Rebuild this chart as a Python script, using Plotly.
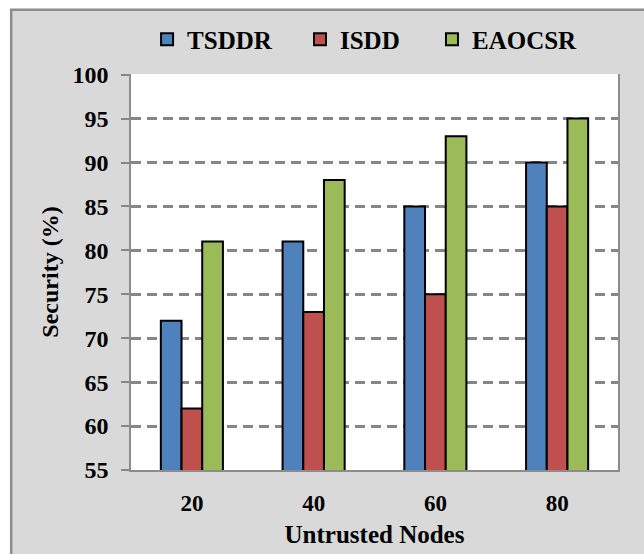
import plotly.graph_objects as go

categories = ["20", "40", "60", "80"]
tsddr = [72, 81, 85, 90]
isdd = [62, 73, 75, 85]
eaocsr = [81, 88, 93, 95]
series_names = ["TSDDR", "ISDD", "EAOCSR"]
colors = ["#4f81bd", "#c0504d", "#9bbb59"]
legend_x = [0.033, 0.347, 0.618]

font_family = "Liberation Serif, Times New Roman, serif"
grid_col = "#868686"

fig = go.Figure()
for i, (name, vals, col) in enumerate(zip(series_names, [tsddr, isdd, eaocsr], colors)):
    fig.add_trace(go.Bar(
        x=categories, y=vals, name=name, showlegend=True,
        legend="legend" if i == 0 else f"legend{i+1}",
        marker=dict(color=col, line=dict(color="black", width=2)),
    ))

leg_common = dict(
    orientation="h", xanchor="left", y=1.087, yanchor="middle",
    font=dict(family=font_family, size=25, color="black", weight="bold"),
    bgcolor="rgba(0,0,0,0)", itemwidth=30, visible=True,
)
fig.update_layout(
    width=644, height=554,
    margin=dict(l=131, r=26, t=74, b=84),
    paper_bgcolor="white",
    plot_bgcolor="white",
    showlegend=True,
    barmode="group",
    bargap=0.49,
    bargroupgap=0,
    font=dict(family=font_family, size=18, color="black"),
    legend=dict(x=legend_x[0], **leg_common),
    legend2=dict(x=legend_x[1], **leg_common),
    legend3=dict(x=legend_x[2], **leg_common),
    shapes=[dict(
        type="rect", xref="paper", yref="paper",
        x0=-0.246, x1=1.2, y0=-0.25, y1=1.162,
        line=dict(color="#8c8c8c", width=2.5), fillcolor="#d9d9d9", layer="below",
    ), dict(
        type="rect", xref="paper", yref="paper",
        x0=0, x1=1, y0=0, y1=1,
        line=dict(width=0), fillcolor="white", layer="below",
    )],
)

fig.update_xaxes(
    automargin=False,
    showline=True, linecolor="#8c8c8c", linewidth=1.5,
    ticks="", ticklabelstandoff=12,
    tickfont=dict(family=font_family, size=23, weight="bold"),
    title=dict(text="Untrusted Nodes", font=dict(family=font_family, size=25, weight="bold"), standoff=10),
)
fig.update_yaxes(
    automargin=False,
    range=[55, 100.08], dtick=5, tick0=55,
    showline=True, linecolor="#8c8c8c", linewidth=1.5, mirror=True,
    showgrid=True, gridcolor=grid_col, gridwidth=2.5, griddash="10px,6px",
    ticks="outside", ticklen=8, tickcolor=grid_col, tickwidth=1.5,
    ticklabelstandoff=8,
    tickfont=dict(family=font_family, size=24, weight="bold"),
    title=dict(text="Security (%)", font=dict(family=font_family, size=24, weight="bold"), standoff=7),
)

fig.write_html("out.html")
